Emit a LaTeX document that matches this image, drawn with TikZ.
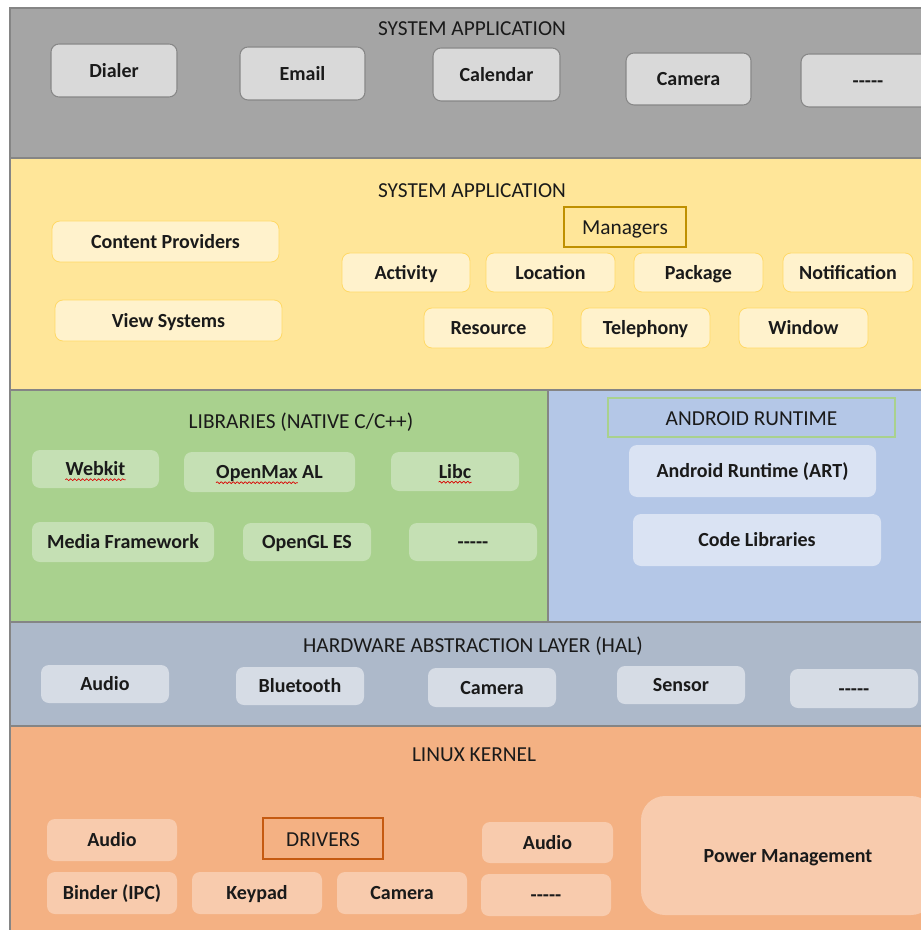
\documentclass[tikz,border=0pt]{standalone}
\usepackage{fontspec}
\setmainfont{Carlito}
\usetikzlibrary{decorations.pathmorphing,calc}
\definecolor{txt}{HTML}{1A1A1A}
\definecolor{bandline}{HTML}{858585}
\definecolor{graybg}{HTML}{A5A5A5}
\definecolor{graybox}{HTML}{D9D9D9}
\definecolor{grayboxline}{HTML}{878787}
\definecolor{yellowbg}{HTML}{FFE699}
\definecolor{yellowbox}{HTML}{FFF2CC}
\definecolor{yellowboxline}{HTML}{FFD966}
\definecolor{mgrline}{HTML}{BF9000}
\definecolor{greenbg}{HTML}{A9D18E}
\definecolor{greenbox}{HTML}{C5E0B4}
\definecolor{bluebg}{HTML}{B4C7E7}
\definecolor{bluebox}{HTML}{DAE3F3}
\definecolor{halbg}{HTML}{ADB9CA}
\definecolor{halbox}{HTML}{D6DCE5}
\definecolor{kernbg}{HTML}{F4B183}
\definecolor{kernbox}{HTML}{F8CBAD}
\definecolor{drvline}{HTML}{C55A11}
\newcommand\abox[7]{%
  \node[#1, minimum width={(#5-#3)*0.75pt}, minimum height={(#6-#4)*0.75pt}]
    (#2) at ({(#3+#5)/2},{(#4+#6)/2}) {#7};}
\newcommand\dashfive{-{}-{}-{}-{}-}
\tikzset{
  band/.style={draw=bandline, line width=1.1pt},
  boxbase/.style={rounded corners=6pt, inner sep=0pt, text=txt,
    text height=13pt, text depth=3pt,
    font=\fontsize{15}{18}\selectfont\bfseries},
  gbx/.style={boxbase, fill=graybox, draw=grayboxline, line width=0.8pt},
  ybx/.style={boxbase, fill=yellowbox, draw=yellowboxline, line width=0.6pt},
  grb/.style={boxbase, fill=greenbox},
  bbx/.style={boxbase, fill=bluebox},
  hbx/.style={boxbase, fill=halbox},
  kbx/.style={boxbase, fill=kernbox},
  ttl/.style={inner sep=0pt, text=txt, text height=10pt, text depth=3pt,
    font=\fontsize{16}{19}\selectfont},
  tbox/.style={inner sep=0pt, text=txt, text height=16pt, text depth=4pt,
    font=\fontsize{16}{19}\selectfont},
  btxt/.style={inner sep=0pt, text=txt, text height=13pt, text depth=3pt,
    font=\fontsize{15}{18}\selectfont\bfseries},
  wave/.style={draw=red!85!black, line width=0.5pt, decorate,
    decoration={snake, amplitude=0.7pt, segment length=3pt}}
}
\begin{document}
\begin{tikzpicture}[x=0.75pt, y=-0.75pt]
\useasboundingbox (0,0) rectangle (920,930);
\fill[white] (0,0) rectangle (920,930);
% bands
\filldraw[band, fill=graybg] (10,8) rectangle (930,158);
\filldraw[band, fill=yellowbg] (10,158) rectangle (930,390);
\filldraw[band, fill=greenbg] (10,390) rectangle (548,622);
\filldraw[band, fill=bluebg] (548,390) rectangle (930,622);
\filldraw[band, fill=halbg] (10,622) rectangle (930,726);
\filldraw[band, fill=kernbg] (10,726) rectangle (930,940);

% system applications
\node[ttl] (t1) at (472,31) {SYSTEM APPLICATION};
\abox{gbx}{dialer}{51}{44}{177}{97}{Dialer}
\abox{gbx}{email}{240}{47}{365}{100}{Email}
\abox{gbx}{calendar}{433}{48}{560}{101}{Calendar}
\abox{gbx}{camera1}{626}{53}{751}{105}{Camera}
\abox{gbx}{more1}{801}{54}{935}{107}{\dashfive}

% framework
\node[ttl] (t2) at (472,193) {SYSTEM APPLICATION};
\abox{ybx}{content}{52}{221}{279}{262}{Content Providers}
\abox{ybx}{views}{55}{300}{282}{341}{View Systems}
\abox{tbox, draw=mgrline, line width=1pt, fill=yellowbg}{managers}{564}{207}{686}{247}{Managers}
\abox{ybx}{activity}{342}{253}{470}{292}{Activity}
\abox{ybx}{location}{486}{253}{615}{292}{Location}
\abox{ybx}{package}{634}{253}{763}{292}{Package}
\abox{ybx}{notification}{783}{253}{913}{292}{Notification}
\abox{ybx}{resource}{424}{308}{553}{348}{Resource}
\abox{ybx}{telephony}{581}{308}{710}{348}{Telephony}
\abox{ybx}{window}{739}{308}{868}{348}{Window}

% libraries
\node[ttl] (t3) at (301,424) {LIBRARIES (NATIVE C/C++)};
\abox{grb}{webkit}{32}{450}{159}{488}{}
\node[btxt] (webkitT) at (webkit) {Webkit};
\draw[wave] ($(webkitT.base west)+(0,4)$) -- ($(webkitT.base east)+(0,4)$);
\abox{grb}{openmax}{184}{452}{355}{492}{}
\node[btxt] (openmaxT) at (openmax) {OpenMax AL};
\draw[wave] ($(openmaxT.base west)+(0,4)$) -- ($($(openmaxT.base west)!0.765!(openmaxT.base east)$)+(0,4)$);
\abox{grb}{libc}{391}{452}{519}{491}{}
\node[btxt] (libcT) at (libc) {Libc};
\draw[wave] ($(libcT.base west)+(0,4)$) -- ($(libcT.base east)+(0,4)$);
\abox{grb}{media}{32}{522}{214}{562}{Media Framework}
\abox{grb}{opengl}{243}{523}{371}{561}{OpenGL ES}
\abox{grb}{more2}{409}{523}{537}{561}{\dashfive}

% android runtime
\abox{tbox, draw=greenbg, line width=1pt}{art}{608}{398}{895}{437}{ANDROID RUNTIME}
\abox{bbx}{artbox}{629}{445}{876}{497}{Android Runtime (ART)}
\abox{bbx}{codelib}{633}{514}{881}{566}{Code Libraries}

% HAL
\node[ttl] (t4) at (473,648) {HARDWARE ABSTRACTION LAYER (HAL)};
\abox{hbx}{haudio}{41}{665}{169}{703}{Audio}
\abox{hbx}{hbt}{236}{667}{364}{705}{Bluetooth}
\abox{hbx}{hcam}{428}{668}{556}{707}{Camera}
\abox{hbx}{hsensor}{617}{666}{745}{704}{Sensor}
\abox{hbx}{hmore}{790}{669}{918}{708}{\dashfive}

% kernel
\node[ttl] (t5) at (474,757) {LINUX KERNEL};
\abox{kbx}{kaudio}{47}{819}{177}{861}{Audio}
\abox{tbox, draw=drvline, line width=1pt}{drivers}{263}{818}{383}{859}{DRIVERS}
\abox{kbx}{kaudio2}{482}{822}{613}{863}{Audio}
\abox{kbx}{binder}{47}{872}{177}{914}{Binder (IPC)}
\abox{kbx}{keypad}{192}{872}{322}{914}{Keypad}
\abox{kbx}{kcam}{337}{872}{467}{914}{Camera}
\abox{kbx}{kmore}{481}{874}{611}{916}{\dashfive}
\abox{kbx, rounded corners=18pt}{power}{641}{796}{935}{915}{Power Management}
\end{tikzpicture}
\end{document}
